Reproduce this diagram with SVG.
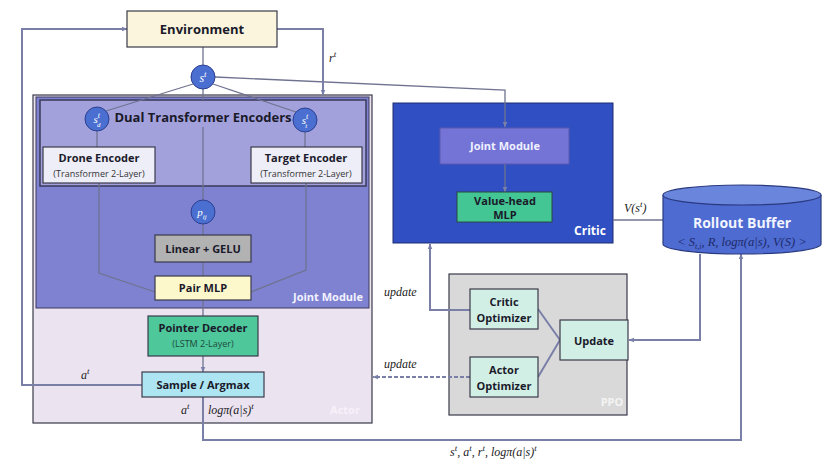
<svg xmlns="http://www.w3.org/2000/svg" width="831" height="468" viewBox="0 0 831 468">
<defs>
<marker id="ah" viewBox="0 0 10 10" refX="9" refY="5" markerWidth="6" markerHeight="6" orient="auto-start-reverse" markerUnits="userSpaceOnUse">
<path d="M0,1 L10,5 L0,9 z" fill="#7a7fa8"/>
</marker>
<style>
.b{font-family:"Open Sans","Liberation Sans",sans-serif;font-weight:bold;text-anchor:middle;fill:#1a1a2a}
.s{font-family:"Open Sans","Liberation Sans",sans-serif;text-anchor:middle;fill:#333}
.m{font-family:"Liberation Serif","DejaVu Serif",serif;font-style:italic;fill:#222}
.ln{fill:none;stroke:#7a7fa8;stroke-width:2}
.ln1{fill:none;stroke:#6f7390;stroke-width:1.3}
.box{stroke:#3a3a4a;stroke-width:1.2}
.circ{fill:#4a6fd0;stroke:#2c3f90;stroke-width:1}
.ct{font-family:"Liberation Serif",serif;font-style:italic;fill:#fff;text-anchor:middle}
</style>
</defs>
<rect width="831" height="468" fill="#fff"/>

<g id="actor">
<rect x="33" y="95" width="339" height="328" fill="#ece3f1" class="box"/>
<text x="345" y="414" class="b" font-size="11" style="fill:#f6f2f9">Actor</text>
</g>
<g id="joint-module">
<rect x="36" y="97" width="333" height="211" fill="#7f82d0" stroke="#3a3a5a" stroke-width="1"/>
<text x="328" y="301" class="b" font-size="11" style="fill:#f2f2ff">Joint Module</text>
</g>
<g id="dual-encoders">
<rect x="40" y="100" width="326" height="86" fill="#a3a1dc" stroke="#3a3a5a" stroke-width="1.5"/>
<text x="203" y="122" class="b" font-size="13">Dual Transformer Encoders</text>
</g>
<g id="critic">
<rect x="393" y="103" width="220" height="140" fill="#2f4fc2" stroke="#1e2c70" stroke-width="1"/>
<text x="590" y="235" class="b" font-size="12" style="fill:#fff">Critic</text>
</g>
<g id="ppo">
<rect x="449" y="274" width="178" height="141" fill="#d9d9d9" class="box"/>
<text x="612" y="406" class="b" font-size="11" style="fill:#f4f4f4">PPO</text>
</g>

<g id="connectors">
<line x1="203" y1="47" x2="203" y2="65" class="ln1"/>
<line x1="193" y1="84" x2="106" y2="111" class="ln1"/>
<line x1="213" y1="84" x2="296" y2="112" class="ln1"/>
<line x1="203" y1="89" x2="203" y2="100" class="ln1"/>
<line x1="203" y1="127" x2="203" y2="200" class="ln1"/>
<polyline points="215,77 505,90 505,127" class="ln1" marker-end="url(#ah)"/>
<line x1="97" y1="131" x2="97" y2="147" class="ln1"/>
<line x1="305" y1="132" x2="305" y2="147" class="ln1"/>
<polyline points="99,183 99,273 155,292" class="ln1"/>
<polyline points="306,183 306,270 251,292" class="ln1"/>
<line x1="203" y1="224" x2="203" y2="235" class="ln1"/>
<line x1="203" y1="262" x2="203" y2="276" class="ln1"/>
<line x1="203" y1="300" x2="203" y2="316" class="ln1"/>
<line x1="203" y1="356" x2="203" y2="372" class="ln1" marker-end="url(#ah)"/>
<polyline points="142,385 22,385 22,29 127,29" class="ln" marker-end="url(#ah)"/>
<polyline points="277,29 323,29 323,95" class="ln" marker-end="url(#ah)"/>
<polyline points="203,397 203,440 741,440 741,254" class="ln" marker-end="url(#ah)"/>
<line x1="505" y1="164" x2="505" y2="192" class="ln1" marker-end="url(#ah)"/>
<line x1="613" y1="220" x2="663" y2="220" class="ln1"/>
<polyline points="470,310 430,310 430,244" class="ln" marker-end="url(#ah)"/>
<line x1="470" y1="377" x2="373" y2="377" class="ln" stroke-dasharray="4,2" marker-end="url(#ah)"/>
<line x1="538" y1="309" x2="560" y2="340" class="ln"/>
<line x1="538" y1="377" x2="560" y2="340" class="ln"/>
<polyline points="700,254 700,340 629,340" class="ln" marker-end="url(#ah)"/>
</g>

<g id="environment">
<rect x="127" y="11" width="150" height="36" fill="#fbf5dd" class="box"/>
<text x="202" y="34" class="b" font-size="13">Environment</text>
</g>
<text x="329" y="62" class="m" font-size="12">r<tspan dy="-5" font-size="9">t</tspan></text>

<g id="s-t">
<circle cx="203" cy="77" r="12" class="circ"/>
<text x="203" y="82" class="ct" font-size="12">s<tspan dy="-5" font-size="9">t</tspan></text>
</g>
<g id="s-d">
<circle cx="97" cy="119" r="12" class="circ"/>
<text x="97" y="123" class="ct" font-size="11">s<tspan dy="-5" font-size="8">t</tspan><tspan dx="-3" dy="9" font-size="7">d</tspan></text>
</g>
<g id="s-tgt">
<circle cx="305" cy="120" r="12" class="circ"/>
<text x="305" y="124" class="ct" font-size="11">s<tspan dy="-5" font-size="8">t</tspan><tspan dx="-3" dy="9" font-size="7">t</tspan></text>
</g>

<g id="drone-encoder">
<rect x="43" y="147" width="112" height="36" fill="#eeeef8" class="box"/>
<text x="99" y="162" class="b" font-size="11">Drone Encoder</text>
<text x="99" y="177" class="s" font-size="9">(Transformer  2-Layer)</text>
</g>
<g id="target-encoder">
<rect x="251" y="147" width="111" height="36" fill="#eeeef8" class="box"/>
<text x="306" y="162" class="b" font-size="11">Target Encoder</text>
<text x="306" y="177" class="s" font-size="9">(Transformer  2-Layer)</text>
</g>
<g id="p-ij">
<circle cx="203" cy="212" r="12" class="circ"/>
<text x="202" y="216" class="ct" font-size="11">p<tspan dy="3" font-size="7">ij</tspan></text>
</g>
<g id="linear-gelu">
<rect x="155" y="235" width="96" height="27" fill="#b2b2b2" class="box"/>
<text x="203" y="253" class="b" font-size="11">Linear + GELU</text>
</g>
<g id="pair-mlp">
<rect x="155" y="276" width="96" height="24" fill="#fcf8cc" class="box"/>
<text x="203" y="292" class="b" font-size="11">Pair MLP</text>
</g>
<g id="pointer-decoder">
<rect x="148" y="316" width="110" height="40" fill="#4ec79b" class="box"/>
<text x="203" y="332" class="b" font-size="11">Pointer Decoder</text>
<text x="203" y="347" class="s" font-size="9" style="fill:#1d4a3a">(LSTM 2-Layer)</text>
</g>
<g id="sample-argmax">
<rect x="142" y="372" width="122" height="25" fill="#aee5f2" class="box"/>
<text x="203" y="389" class="b" font-size="11">Sample / Argmax</text>
</g>
<text x="81" y="379" class="m" font-size="12">a<tspan dy="-5" font-size="9">t</tspan></text>
<text x="181" y="414" class="m" font-size="12">a<tspan dy="-5" font-size="9">t</tspan></text>
<text x="208" y="414" class="m" font-size="12">logπ(a|s)<tspan dy="-5" font-size="9">t</tspan></text>

<g id="critic-joint">
<rect x="440" y="128" width="129" height="36" fill="#7474d6" stroke="#5a5ab0" stroke-width="1"/>
<text x="505" y="150" class="b" font-size="11" style="fill:#f0f0ff">Joint Module</text>
</g>
<g id="value-head">
<rect x="457" y="192" width="95" height="30" fill="#43c594" stroke="#2a4a40" stroke-width="1"/>
<text x="505" y="205" class="b" font-size="11">Value-head</text>
<text x="505" y="219" class="b" font-size="11">MLP</text>
</g>
<text x="624" y="212" class="m" font-size="12">V(s<tspan dy="-5" font-size="9">t</tspan><tspan dy="5">)</tspan></text>

<g id="rollout-buffer">
<path d="M663,195 L663,244 A79,10 0 0 0 821,244 L821,195" fill="#4d6bd0" stroke="#2a3a80" stroke-width="1.2"/>
<ellipse cx="742" cy="195" rx="79" ry="10" fill="#6a86dc" stroke="#2a3a80" stroke-width="1.2"/>
<text x="742" y="228" class="b" font-size="14" style="fill:#f2f4ff">Rollout Buffer</text>
<text x="742" y="246" class="m" font-size="12.5" text-anchor="middle" style="fill:#1e2a6a">&lt; S<tspan dy="3" font-size="8">t,i</tspan><tspan dy="-3">, R, logπ(a|s), V(S) &gt;</tspan></text>
</g>

<g id="critic-optimizer">
<rect x="470" y="289" width="68" height="40" fill="#d2efe6" class="box"/>
<text x="504" y="306" class="b" font-size="11">Critic</text>
<text x="504" y="322" class="b" font-size="11">Optimizer</text>
</g>
<g id="actor-optimizer">
<rect x="470" y="357" width="68" height="40" fill="#d2efe6" class="box"/>
<text x="504" y="374" class="b" font-size="11">Actor</text>
<text x="504" y="390" class="b" font-size="11">Optimizer</text>
</g>
<g id="update">
<rect x="560" y="320" width="68" height="40" fill="#d2efe6" class="box"/>
<text x="594" y="345" class="b" font-size="11">Update</text>
</g>
<text x="384" y="296" class="m" font-size="12">update</text>
<text x="384" y="368" class="m" font-size="12">update</text>
<text x="450" y="456" class="m" font-size="12">s<tspan dy="-5" font-size="9">t</tspan><tspan dy="5">, a</tspan><tspan dy="-5" font-size="9">t</tspan><tspan dy="5">, r</tspan><tspan dy="-5" font-size="9">t</tspan><tspan dy="5">, logπ(a|s)</tspan><tspan dy="-5" font-size="9">t</tspan></text>
</svg>
